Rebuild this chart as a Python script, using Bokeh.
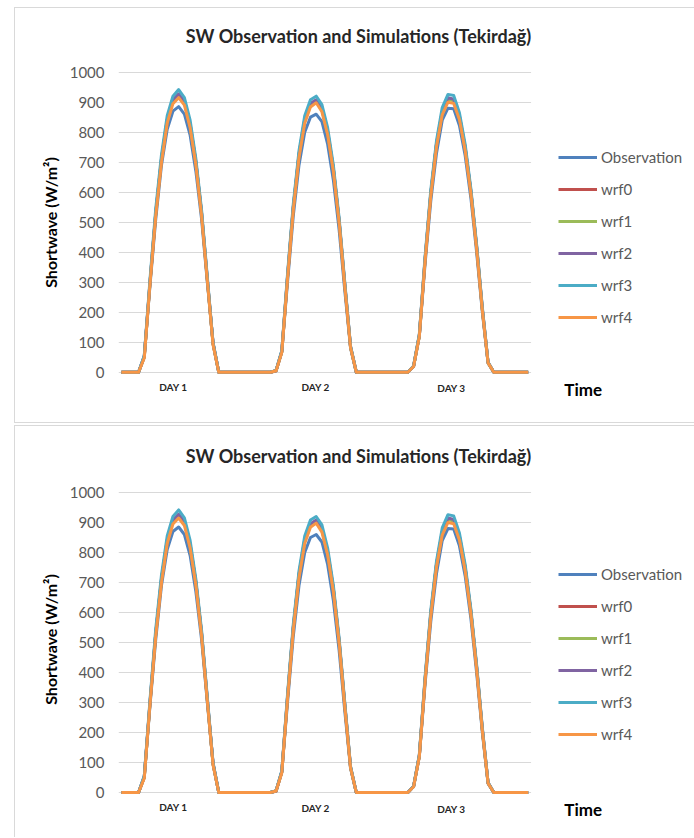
from bokeh.plotting import figure
from bokeh.models import Range1d, Legend, LegendItem, Label, FixedTicker, BoxAnnotation, Spacer
from bokeh.core.properties import value
from bokeh.layouts import column, row
from bokeh.embed import file_html
from bokeh.resources import INLINE

# ---- data (hourly, 3 days) ----
hours = list(range(72))
obs = [0,0,0,0,55,290,510,690,810,870,885,860,790,670,510,300,100,0,0,0,0,0,0,0,
       0,0,0,5,70,300,520,690,800,850,860,835,760,640,475,270,80,0,0,0,0,0,0,0,
       0,0,0,20,120,360,570,730,840,880,878,822,722,580,400,200,30,0,0,0,0,0,0,0]
wrf0 = [0,0,0,0,50,300,530,710,840,905,925,900,825,700,530,310,95,0,0,0,0,0,0,0,
        0,0,0,5,68,318,548,725,840,893,905,877,800,678,505,290,84,0,0,0,0,0,0,0,
        0,0,0,20,122,375,595,760,868,912,908,852,748,602,418,210,32,0,0,0,0,0,0,0]
wrf1 = [0,0,0,0,50,298,528,708,838,903,922,898,822,698,528,308,94,0,0,0,0,0,0,0,
        0,0,0,5,67,316,546,722,838,890,902,874,798,676,503,288,83,0,0,0,0,0,0,0,
        0,0,0,20,121,373,593,758,866,910,905,850,746,600,416,208,31,0,0,0,0,0,0,0]
wrf2 = [0,0,0,0,52,302,532,712,842,908,928,902,828,702,532,312,96,0,0,0,0,0,0,0,
        0,0,0,5,69,320,551,728,843,896,908,880,803,680,507,292,85,0,0,0,0,0,0,0,
        0,0,0,20,123,377,597,762,870,915,910,855,750,604,420,212,32,0,0,0,0,0,0,0]
wrf3 = [0,0,0,0,55,310,545,725,855,920,942,915,840,712,540,318,98,0,0,0,0,0,0,0,
        0,0,0,6,72,328,560,738,855,908,920,892,815,690,515,298,87,0,0,0,0,0,0,0,
        0,0,0,21,126,385,607,772,882,926,922,865,760,612,426,216,33,0,0,0,0,0,0,0]
wrf4 = [0,0,0,0,48,295,522,700,830,895,915,890,815,692,522,305,92,0,0,0,0,0,0,0,
        0,0,0,5,66,312,540,716,830,884,898,868,792,670,500,285,82,0,0,0,0,0,0,0,
        0,0,0,19,119,370,588,752,858,900,896,842,740,596,412,206,31,0,0,0,0,0,0,0]

series_names = ["Observation", "wrf0", "wrf1", "wrf2", "wrf3", "wrf4"]
series_values = [obs, wrf0, wrf1, wrf2, wrf3, wrf4]
colors = ["#4F81BD", "#C0504D", "#9BBB59", "#8064A2", "#4BACC6", "#F79646"]

y_ticks = [0, 100, 200, 300, 400, 500, 600, 700, 800, 900, 1000]
day_labels = ["DAY 1", "DAY 2", "DAY 3"]
day_label_x = [9.06, 33.9, 57.6]
day_label_y = [-48, -51, -54]

title_text = "SW Observation and Simulations (Tekirdağ)"
y_title = "Shortwave (W/m²)"
x_title = "Time"

FONT = "Lato"
PX_PER_UNIT_Y = 0.3


def make_panel(height, top, y_end, legend_y, bottom_border=True):
    frame_h = height - top
    y_start = y_end - frame_h / PX_PER_UNIT_Y
    p = figure(width=680, height=height, output_backend="svg", toolbar_location=None,
               x_range=Range1d(-0.5, 100.2), y_range=Range1d(y_start, y_end),
               x_axis_location=None,
               min_border_left=103, min_border_right=0,
               min_border_top=top, min_border_bottom=0)
    p.outline_line_color = None
    p.background_fill_color = "white"
    p.border_fill_color = "white"
    border = "1px solid #d9d9d9"
    st = {"border-left": border, "border-top": border}
    if bottom_border:
        st["border-bottom"] = border
    p.styles = st

    # y axis
    p.yaxis.ticker = FixedTicker(ticks=y_ticks)
    p.yaxis.axis_line_color = None
    p.yaxis.major_tick_line_color = None
    p.yaxis.minor_tick_line_color = None
    p.yaxis.major_tick_out = 0
    p.yaxis.major_label_standoff = 14
    p.yaxis.major_label_text_font = FONT
    p.yaxis.major_label_text_font_size = "15px"
    p.yaxis.major_label_text_color = "#595959"
    p.yaxis.axis_label = y_title
    p.yaxis.axis_label_text_font = FONT
    p.yaxis.axis_label_text_font_size = "16px"
    p.yaxis.axis_label_text_font_style = "bold"
    p.yaxis.axis_label_text_color = "#000000"
    p.yaxis.axis_label_standoff = 7

    p.xgrid.grid_line_color = None
    p.ygrid.ticker = FixedTicker(ticks=y_ticks)
    p.ygrid.grid_line_color = "#d9d9d9"
    p.ygrid.grid_line_width = 1

    items = []
    for name, vals, c in zip(series_names, series_values, colors):
        r = p.line(hours, vals, line_color=c, line_width=3, line_join="round")
        items.append(LegendItem(label=name, renderers=[r]))

    # white area right of the plot (grid lines stop at the plot edge)
    p.add_layout(BoxAnnotation(left=71.5, fill_color="white", fill_alpha=1.0,
                               line_alpha=0))

    # category labels
    p.text(x=day_label_x, y=day_label_y, text=day_labels,
           text_font=value(FONT), text_font_size="10px", text_font_style="bold",
           text_color="#262626", text_align="center", text_baseline="middle")

    legend = Legend(items=items, location=(440, legend_y), orientation="vertical",
                    glyph_width=39, glyph_height=20, label_height=20,
                    spacing=12, padding=0, margin=0, label_standoff=4,
                    label_text_font=FONT, label_text_font_size="15px",
                    label_text_color="#595959", border_line_color=None,
                    background_fill_alpha=0)
    p.add_layout(legend)

    p.add_layout(Label(x=240, y=1120, x_units="screen", y_units="data", text=title_text,
                       text_align="center", text_baseline="middle",
                       text_font=FONT, text_font_size="18px", text_font_style="bold",
                       text_color="#262626"))
    p.add_layout(Label(x=80.6, y=-58, x_units="data", y_units="data", text=x_title,
                       text_align="center", text_baseline="middle",
                       text_font=FONT, text_font_size="17px", text_font_style="bold",
                       text_color="#000000"))
    return p


p1 = make_panel(416, 12, 1172.3, 97)
p2 = make_panel(412, 14, 1173.3, 94, bottom_border=False)

layout = column(Spacer(height=7),
                row(Spacer(width=14), p1),
                Spacer(height=2),
                row(Spacer(width=14), p2),
                spacing=0)

open("out.html", "w").write(file_html(layout, INLINE))
